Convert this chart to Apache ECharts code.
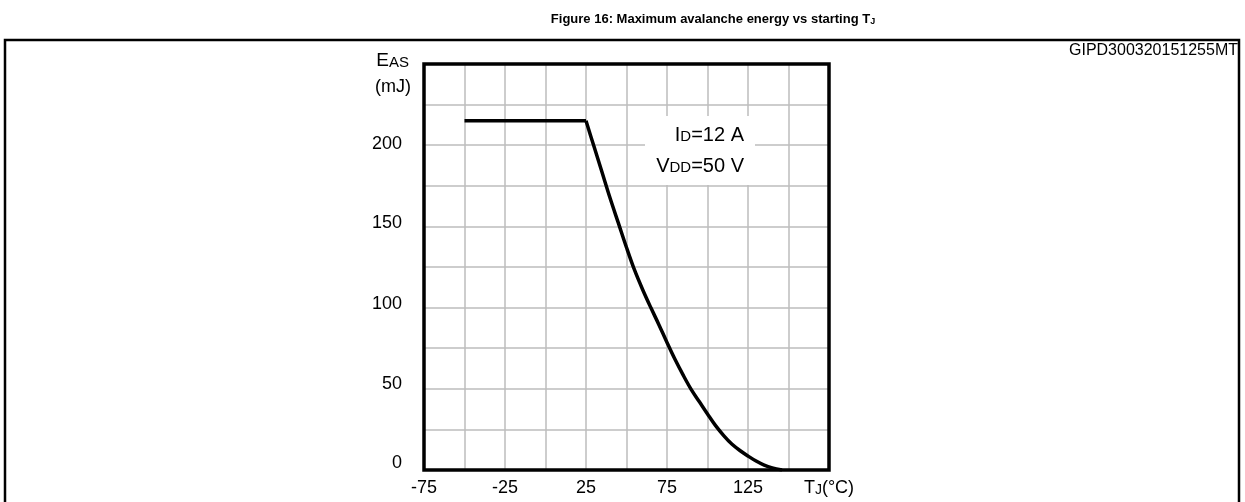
<!DOCTYPE html>
<html>
<head>
<meta charset="utf-8">
<script src="https://cdn.jsdelivr.net/npm/echarts@6/dist/echarts.min.js"></script>
<style>
html,body{margin:0;padding:0;background:#fff;}
#chart{width:1245px;height:502px;}
</style>
</head>
<body>
<div id="chart"></div>
<script>
// Data
const flatTemp = [-50, 25];
const flatEnergy = [215, 215];
const curveTemp = [25, 30, 35, 40, 45, 50, 55, 60, 65, 70, 75, 80, 85, 90, 95, 100, 105, 110, 115, 120, 125, 130, 135, 140, 146];
const curveEnergy = [215, 199, 183, 167, 152, 137, 123, 111, 100, 89.5, 78.5, 68, 58.4, 49.5, 42, 34.5, 27.3, 21.2, 16, 12, 8.6, 5.5, 3.0, 1.3, 0];
const xTicks = [-75, -25, 25, 75, 125];
const yTicks = [0, 50, 100, 150, 200];

const FONT = '"Liberation Sans", Arial, sans-serif';
const FS = 18;
const chart = echarts.init(document.getElementById('chart'), null, {renderer: 'canvas'});

const flatData = flatTemp.map((t, i) => [t, flatEnergy[i]]);
const curveData = curveTemp.map((t, i) => [t, curveEnergy[i]]);

const G = {left: 424, top: 64, width: 405, height: 406};

// per-label vertical nudge (label glyph centre sits this many px above its tick)
const yRich = {};
const yLift = {0: 7, 50: 5, 100: 4, 150: 3, 200: 1};
yTicks.forEach(v => { yRich['a' + v] = {fontSize: FS, fontFamily: FONT, color: '#000', lineHeight: Math.max(2, yLift[v] * 2)}; });

chart.setOption({
  animation: false,
  backgroundColor: '#fff',
  textStyle: {fontFamily: FONT, color: '#000'},
  grid: {left: G.left, top: G.top, width: G.width, height: G.height, show: false},
  xAxis: {
    type: 'value', min: -75, max: 175, interval: 25,
    axisLine: {show: false}, axisTick: {show: false},
    splitLine: {show: true, lineStyle: {color: '#bcbcbc', width: 1.5}},
    axisLabel: {
      show: true, margin: 9, color: '#000', fontFamily: FONT, fontSize: FS,
      showMinLabel: true, showMaxLabel: true,
      formatter: function (v) {
        if (v === 175) return '{t|T}{s|J}{t|(°C)}';
        return xTicks.indexOf(v) >= 0 ? String(v) : '';
      },
      rich: {
        t: {fontSize: FS, fontFamily: FONT, color: '#000'},
        s: {fontSize: 14, fontFamily: FONT, color: '#000', padding: [4, 0, 0, 0]}
      }
    }
  },
  yAxis: {
    type: 'value', min: 0, max: 250, interval: 25,
    axisLine: {show: false}, axisTick: {show: false},
    splitLine: {show: true, lineStyle: {color: '#bcbcbc', width: 1.5}},
    axisLabel: {
      margin: 22, color: '#000', fontFamily: FONT, fontSize: FS,
      verticalAlign: 'bottom',
      formatter: function (v) { return yTicks.indexOf(v) >= 0 ? '{a' + v + '|' + v + '}' : ''; },
      rich: yRich
    }
  },
  series: [
    {type: 'line', data: flatData, showSymbol: false, smooth: false,
     lineStyle: {color: '#000', width: 3.5}, z: 5},
    {type: 'line', data: curveData, showSymbol: false, smooth: 0.35,
     lineStyle: {color: '#000', width: 3.5}, z: 5}
  ],
  graphic: [
    {type: 'rect', z: 0, shape: {x: 5, y: 40, width: 1234, height: 480},
     style: {fill: 'none', stroke: '#000', lineWidth: 2.5}},
    {type: 'rect', z: 100, shape: {x: G.left, y: G.top, width: G.width, height: G.height},
     style: {fill: 'none', stroke: '#000', lineWidth: 3.5}},
    {type: 'text', x: 713, y: 19, z: 10,
     style: {text: '{b|Figure 16: Maximum avalanche energy vs starting T}{bs|J}', textAlign: 'center', textVerticalAlign: 'middle',
       rich: {b: {fontFamily: FONT, fontSize: 13, fontWeight: 'bold', fill: '#000'},
              bs: {fontFamily: FONT, fontSize: 9, fontWeight: 'bold', fill: '#000', padding: [5, 0, 0, 0]}}}},
    {type: 'text', x: 1238, y: 51, z: 10,
     style: {text: 'GIPD300320151255MT', textAlign: 'right', textVerticalAlign: 'middle', fontFamily: FONT, fontSize: 16, fill: '#000'}},
    {type: 'text', x: 409, y: 61, z: 10,
     style: {text: '{e|E}{s|AS}', textAlign: 'right', textVerticalAlign: 'middle',
       rich: {e: {fontFamily: FONT, fontSize: 19, fill: '#000'}, s: {fontFamily: FONT, fontSize: 15, fill: '#000', padding: [3, 0, 0, 0]}}}},
    {type: 'text', x: 411, y: 87, z: 10,
     style: {text: '(mJ)', textAlign: 'right', textVerticalAlign: 'middle', fontFamily: FONT, fontSize: FS, fill: '#000'}},
    {type: 'rect', z: 4, shape: {x: 645, y: 116, width: 110, height: 69}, style: {fill: '#fff', stroke: 'none'}},
    {type: 'text', x: 744, y: 135, z: 10,
     style: {text: '{n|I}{s|D}{n|=12 A}', textAlign: 'right', textVerticalAlign: 'middle',
       rich: {n: {fontFamily: FONT, fontSize: 20, fill: '#000'}, s: {fontFamily: FONT, fontSize: 15, fill: '#000', padding: [3, 0, 0, 0]}}}},
    {type: 'text', x: 744, y: 166, z: 10,
     style: {text: '{n|V}{s|DD}{n|=50 V}', textAlign: 'right', textVerticalAlign: 'middle',
       rich: {n: {fontFamily: FONT, fontSize: 20, fill: '#000'}, s: {fontFamily: FONT, fontSize: 15, fill: '#000', padding: [3, 0, 0, 0]}}}}
  ]
});
</script>
</body>
</html>
